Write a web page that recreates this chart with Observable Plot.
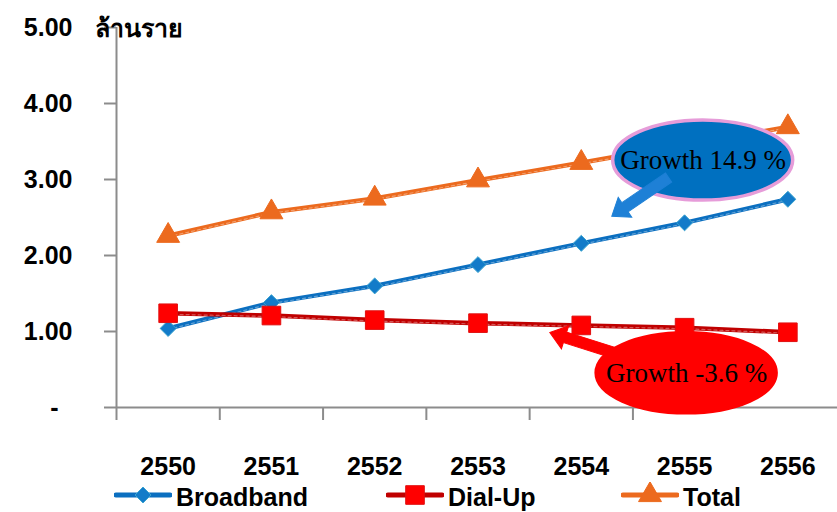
<!DOCTYPE html>
<html><head><meta charset="utf-8">
<script src="https://cdn.jsdelivr.net/npm/d3@7"></script>
<script src="https://cdn.jsdelivr.net/npm/@observablehq/plot@0.6"></script>
<style>
body{margin:0;background:#fff;}
#wrap{position:relative;width:837px;height:512px;overflow:hidden;background:#fff;}
#legend{position:relative;width:837px;height:30px;font-family:"Liberation Sans",Arial,sans-serif;font-weight:bold;font-size:25px;color:#000;}
.item{position:absolute;top:0;height:30px;display:flex;align-items:center;}
.item svg{margin-right:4px;}
</style></head><body><div id="wrap"></div>
<script>
const years = [2550, 2551, 2552, 2553, 2554, 2555, 2556];
const broadband = [1.04, 1.38, 1.60, 1.88, 2.16, 2.43, 2.74];
const dialup = [1.24, 1.21, 1.15, 1.11, 1.08, 1.05, 0.99];
const total = [2.26, 2.57, 2.75, 2.99, 3.22, 3.46, 3.69];
const yTicks = [0, 1, 2, 3, 4, 5];
const yTickLabels = ["-\u00a0\u00a0", "1.00", "2.00", "3.00", "4.00", "5.00"];
const unitLabel = "ล้านราย";
const seriesNames = ["Broadband", "Dial-Up", "Total"];
const calloutLabels = ["Growth 14.9 %", "Growth -3.6 %"];
const calloutCenters = [[2555.18, 3.25], [2555.02, 0.45]];
const calloutArrows = [[2554.85, 3.02, 2554.3, 2.51], [2554.35, 0.7, 2553.7, 0.98]];

const colors = {
  Broadband: {line: "#0B6FC0", fill: "#137BC9", stroke: "#3AA3CF", symbol: "diamond2", r: 7.2},
  "Dial-Up": {line: "#C00000", fill: "#FF0000", stroke: "#E01010", symbol: "square", r: 10.5},
  Total: {line: "#EC6A1E", fill: "#EC6A1E", stroke: "#EC6A1E", symbol: "triangle", r: 8.5}
};
const seriesValues = [broadband, dialup, total];
const rows = seriesNames.flatMap((s, si) => years.map((yr, i) => ({series: s, year: yr, value: seriesValues[si][i]})));
const bounds = years.slice(0, 6).map(y => y - 0.5);
const callouts = calloutLabels.map((t, i) => ({label: t, x: calloutCenters[i][0], y: calloutCenters[i][1],
  x1: calloutArrows[i][0], y1: calloutArrows[i][1], x2: calloutArrows[i][2], y2: calloutArrows[i][3]}));
const calloutStyle = [{fill: "#0070C0", stroke: "#E69CD9", arrow: "#1E80D6"}, {fill: "#FF0000", stroke: "#FF0000", arrow: "#FF0000"}];

const seriesMarks = seriesNames.flatMap(s => {
  const c = colors[s];
  const data = rows.filter(d => d.series === s);
  return [
    Plot.line(data, {x: "year", y: "value", stroke: c.line, strokeWidth: 4.5}),
    Plot.line(data, {x: "year", y: "value", stroke: "#ffffff", strokeOpacity: 0.35, strokeWidth: 1.2, strokeDasharray: "3,3", dy: 1}),
    Plot.dot(data, {x: "year", y: "value", symbol: c.symbol, r: c.r, fill: c.fill, stroke: c.stroke, strokeWidth: 1})
  ];
});

const ellipses = (index, scales) => {
  const g = d3.create("svg:g");
  callouts.forEach((d, i) => {
    g.append("ellipse")
      .attr("cx", scales.x(d.x)).attr("cy", scales.y(d.y))
      .attr("rx", 90).attr("ry", 40)
      .attr("fill", calloutStyle[i].fill)
      .attr("stroke", calloutStyle[i].stroke).attr("stroke-width", 3.5);
  });
  return g.node();
};

const blockArrows = (index, scales) => {
  const g = d3.create("svg:g");
  callouts.forEach((d, i) => {
    const ax = scales.x(d.x1), ay = scales.y(d.y1), bx = scales.x(d.x2), by = scales.y(d.y2);
    const len = Math.hypot(bx - ax, by - ay);
    const ang = Math.atan2(by - ay, bx - ax) * 180 / Math.PI;
    const hl = 16, sw = 5.5, hw = 12;
    const pts = [[0, -sw], [len - hl, -sw], [len - hl, -hw], [len, 0], [len - hl, hw], [len - hl, sw], [0, sw]];
    g.append("path")
      .attr("d", "M" + pts.map(p => p.join(",")).join("L") + "Z")
      .attr("transform", `translate(${ax},${ay}) rotate(${ang})`)
      .attr("fill", calloutStyle[i].arrow)
      .attr("stroke", calloutStyle[i].arrow).attr("stroke-width", 1);
  });
  return g.node();
};

const chart = Plot.plot({
  width: 837,
  height: 482,
  marginTop: 27,
  marginBottom: 75,
  marginLeft: 116,
  marginRight: 0,
  x: {type: "linear", domain: [2549.5, 2556.5], range: [116, 839]},
  y: {domain: [0, 5]},
  style: {fontFamily: "'Liberation Sans', Arial, sans-serif", background: "#fff"},
  marks: [
    Plot.axisY({ticks: yTicks, tickFormat: d => yTickLabels[yTicks.indexOf(d)], tickSize: 12, tickPadding: 32,
      fontSize: 25, fontWeight: "bold", stroke: "#8c8c8c", strokeWidth: 2, fill: "#000"}),
    Plot.axisX({ticks: bounds, tickFormat: () => "", tickSize: 13, stroke: "#8c8c8c", strokeWidth: 2}),
    Plot.axisX({ticks: years, tickFormat: d => String(d), tickSize: 0, tickPadding: 50,
      fontSize: 25, fontWeight: "bold", fill: "#000"}),
    Plot.ruleY([0], {stroke: "#8c8c8c", strokeWidth: 2, x1: 2549.5, x2: 2556.5}),
    Plot.ruleX([2549.5], {stroke: "#8c8c8c", strokeWidth: 2, y1: 0, y2: 5}),
    Plot.text([unitLabel], {frameAnchor: "top-left", textAnchor: "start", dx: -22, dy: -8,
      fontSize: 25, fontWeight: "bold", fill: "#000"}),
    ...seriesMarks,
    ellipses,
    blockArrows,
    Plot.text(callouts, {x: "x", y: "y", text: "label", fontFamily: "'Liberation Serif', 'Times New Roman', serif",
      fontSize: 27, fill: "#000"})
  ]
});
document.getElementById("wrap").appendChild(chart);

const legend = document.createElement("div");
legend.id = "legend";
const legendLeft = [114, 386, 621];
seriesNames.forEach((s, i) => {
  const c = colors[s];
  const item = document.createElement("div");
  item.className = "item";
  item.style.left = legendLeft[i] + "px";
  const sw = d3.create("svg").attr("width", 58).attr("height", 30);
  sw.append("line").attr("x1", 2).attr("x2", 56).attr("y1", 13).attr("y2", 13)
    .attr("stroke", c.line).attr("stroke-width", 5).attr("stroke-linecap", "round");
  const sym = {diamond2: d3.symbolDiamond2, square: d3.symbolSquare, triangle: d3.symbolTriangle}[c.symbol];
  sw.append("path").attr("d", d3.symbol(sym, Math.PI * c.r * c.r)()).attr("transform", "translate(29,13)")
    .attr("fill", c.fill).attr("stroke", c.stroke);
  item.appendChild(sw.node());
  const t = document.createElement("span");
  t.textContent = s;
  item.appendChild(t);
  legend.appendChild(item);
});
document.getElementById("wrap").appendChild(legend);
</script></body></html>
